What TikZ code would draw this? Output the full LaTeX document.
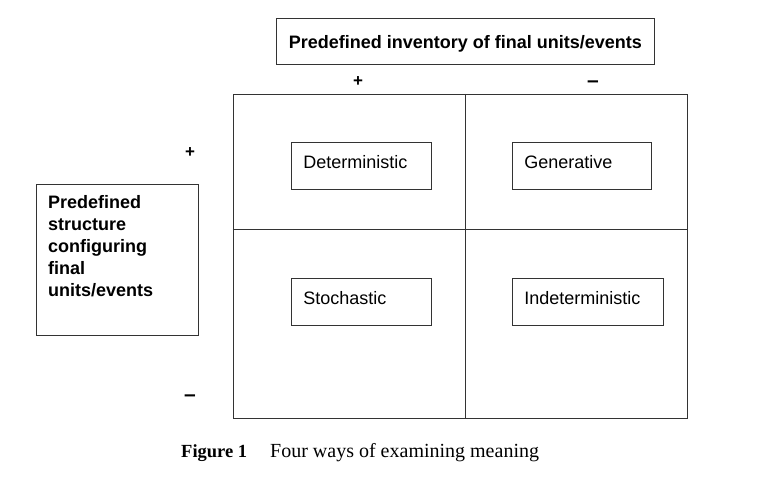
\documentclass[tikz,border=0pt]{standalone}
\usepackage{fontspec}
\setmainfont{Liberation Serif}
\setsansfont{Liberation Sans}
\newfontfamily\capfont{Liberation Serif}
\begin{document}
\begin{tikzpicture}[x=1pt,y=-1pt,
  line/.style={draw=black!80, line width=0.9pt},
  boxnode/.style={line, rectangle, inner sep=0pt},
  cellbox/.style={boxnode, minimum width=140pt, minimum height=47pt, anchor=north west,
     font=\sffamily\fontsize{18}{20}\selectfont, text height=13pt, text depth=8pt,
     align=left, inner xsep=12pt},
  headtxt/.style={font=\sffamily\bfseries\fontsize{18}{22}\selectfont},
  signtxt/.style={font=\sffamily\bfseries\fontsize{17}{18}\selectfont, inner sep=0pt},
  minustxt/.style={font=\sffamily\bfseries\fontsize{21}{22}\selectfont, inner sep=0pt}
]
\useasboundingbox[fill=white] (0,0) rectangle (768,492);

% top header box
\node[boxnode, headtxt, minimum width=378pt, minimum height=46pt, anchor=north west,
      text height=17pt, text depth=3pt] (top) at (276,18) {Predefined inventory of final units/events};

% left header box
\node[boxnode, minimum width=162pt, minimum height=151pt, anchor=north west] (left) at (36,184) {};
\node[headtxt, align=left, anchor=north west, inner sep=0pt] (lefttext) at (48,195) {Predefined\\structure\\configuring\\final\\units/events};

% signs
\node[signtxt] (plustop) at (358,82) {+};
\node[minustxt] (minustop) at (593,84) {\textendash};
\node[signtxt] (plusleft) at (190,153) {+};
\node[minustxt] (minusleft) at (190,398) {\textendash};

% grid
\node[boxnode, minimum width=454pt, minimum height=324pt, anchor=north west] (grid) at (232.5,94) {};
\coordinate (vt) at (465,94);
\coordinate (vb) at (465,418);
\coordinate (hl) at (232.5,229);
\coordinate (hr) at (686.5,229);
\draw[line] (vt) -- (vb);
\draw[line] (hl) -- (hr);

% cells
\node[cellbox, text width=116pt] (det) at (291,142) {Deterministic};
\node[cellbox, text width=115pt, minimum width=139pt] (gen) at (512,142) {Generative};
\node[cellbox, text width=116pt] (sto) at (291,278) {Stochastic};
\node[cellbox, text width=127pt, minimum width=151pt] (ind) at (512,278) {Indeterministic};

% caption
\node[anchor=base west, inner sep=0pt, font=\capfont\bfseries\fontsize{18.5}{22}\selectfont] (figlab) at (181,457) {Figure 1};
\node[anchor=base west, inner sep=0pt, font=\capfont\fontsize{20}{22}\selectfont] (figcap) at (270,457) {Four ways of examining meaning};
\end{tikzpicture}
\end{document}
